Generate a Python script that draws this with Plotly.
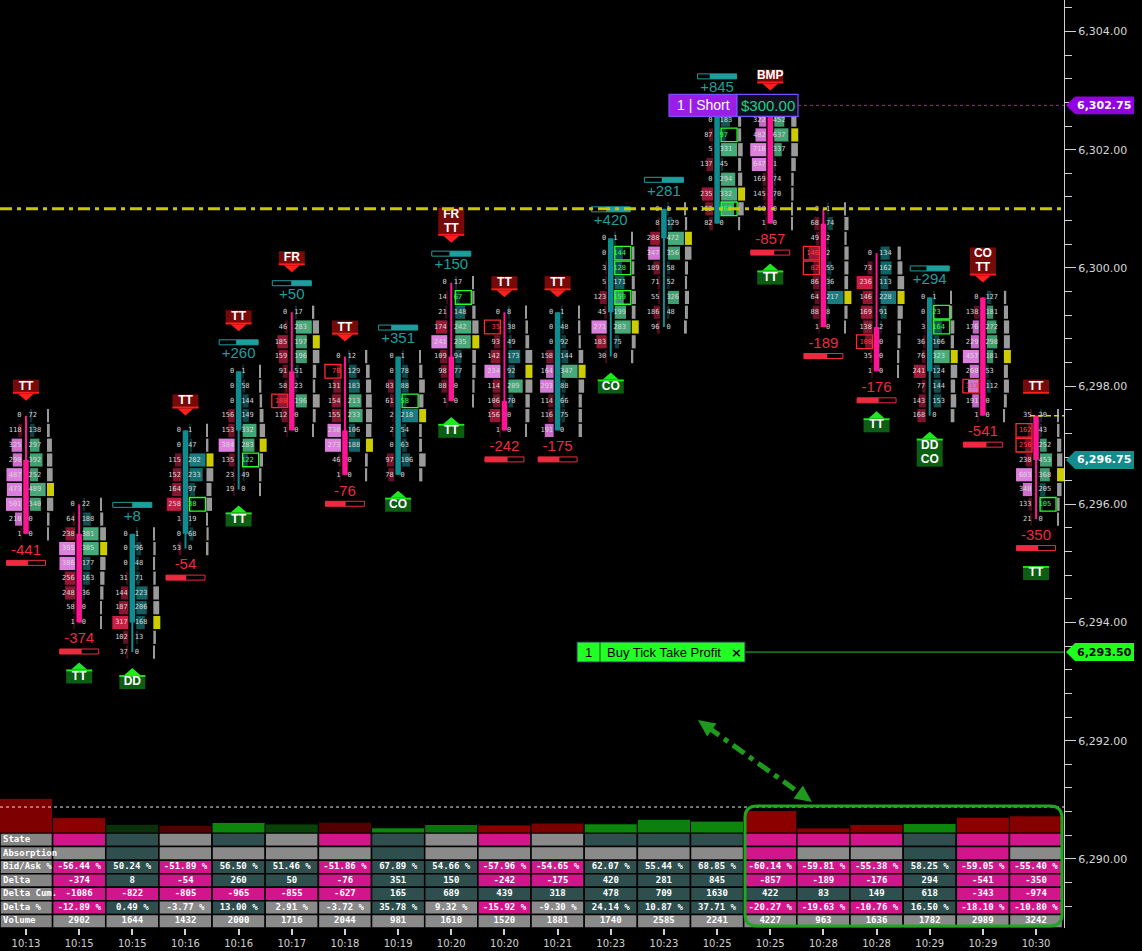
import plotly.graph_objects as go

# ---------------------------------------------------------------- data
times = ["10:13", "10:15", "10:15", "10:16", "10:16", "10:17", "10:18", "10:19", "10:20", "10:20",
         "10:21", "10:23", "10:23", "10:25", "10:25", "10:28", "10:28", "10:29", "10:29", "10:30"]
highs = [6297.5, 6296.0, 6295.5, 6297.25, 6298.25, 6299.25, 6298.5, 6298.5, 6299.75, 6299.25,
         6299.25, 6300.5, 6301.0, 6302.75, 6302.75, 6301.0, 6300.25, 6299.5, 6299.5, 6297.5]
opens = [6296.75, 6295.5, 6294.0, 6295.5, 6297.25, 6298.25, 6297.25, 6296.5, 6298.5, 6297.75,
         6297.25, 6299.25, 6300.5, 6300.75, 6302.75, 6300.75, 6299.0, 6298.25, 6299.5, 6297.5]
closes = [6295.5, 6294.0, 6295.5, 6297.25, 6298.25, 6297.25, 6296.5, 6298.5, 6297.75, 6297.25,
          6299.25, 6300.5, 6301.0, 6302.75, 6300.75, 6299.0, 6298.25, 6299.5, 6297.5, 6296.75]
bids = [
    [0, 118, 325, 290, 487, 473, 501, 218, 1],
    [0, 64, 238, 395, 386, 256, 248, 58, 1],
    [0, 0, 0, 31, 144, 187, 317, 102, 37],
    [0, 0, 115, 152, 164, 258, 1, 0, 53],
    [0, 0, 0, 156, 153, 384, 135, 23, 19],
    [0, 46, 185, 159, 91, 58, 180, 112, 1],
    [0, 70, 131, 154, 155, 230, 273, 46, 1],
    [0, 0, 83, 61, 2, 2, 0, 97, 78],
    [0, 14, 21, 174, 241, 109, 98, 88, 1],
    [0, 35, 93, 142, 234, 114, 106, 156, 1],
    [0, 0, 0, 158, 164, 293, 114, 116, 191],
    [0, 0, 3, 5, 123, 45, 271, 183, 30],
    [0, 8, 288, 347, 189, 71, 55, 186, 96],
    [0, 0, 87, 5, 137, 0, 235, 162, 82],
    [0, 322, 482, 718, 647, 169, 145, 60, 1],
    [0, 68, 49, 146, 82, 86, 64, 88, 1],
    [0, 73, 236, 146, 169, 138, 108, 35, 1],
    [0, 0, 3, 36, 76, 241, 77, 143, 168],
    [0, 138, 176, 229, 457, 260, 313, 191, 1],
    [35, 162, 256, 238, 603, 348, 133, 21],
]
asks = [
    [72, 138, 297, 392, 252, 489, 340, 0, 0],
    [22, 188, 381, 385, 177, 163, 36, 0, 0],
    [1, 96, 48, 71, 223, 206, 168, 13, 0],
    [1, 47, 282, 233, 97, 38, 19, 68, 0],
    [1, 58, 144, 149, 332, 283, 122, 49, 0],
    [17, 283, 197, 196, 51, 23, 196, 0, 0],
    [12, 129, 183, 213, 233, 106, 188, 0, 0],
    [1, 78, 88, 58, 218, 54, 63, 106, 0],
    [17, 67, 148, 242, 235, 94, 77, 0, 0],
    [8, 38, 49, 173, 92, 209, 70, 0, 0],
    [1, 48, 92, 144, 347, 88, 66, 75, 0],
    [1, 144, 128, 171, 159, 199, 283, 75, 0],
    [1, 129, 472, 356, 58, 52, 326, 48, 0],
    [2, 183, 97, 331, 45, 294, 332, 269, 0],
    [114, 452, 637, 337, 1, 74, 70, 0, 0],
    [1, 74, 2, 2, 55, 36, 217, 8, 0],
    [134, 162, 113, 228, 91, 2, 0, 0, 0],
    [1, 23, 164, 106, 323, 124, 144, 153, 0],
    [127, 181, 272, 298, 181, 53, 112, 0, 0],
    [20, 43, 252, 453, 368, 205, 105, 0],
]
# value-area membership of each cell (1 = inside)
bid_va = ["001111110", "000110000", "000000000", "000000000", "000001000", "000000000", "000001100",
          "000000000", "000010000", "000010000", "000011001", "000000100", "000100000", "000000000",
          "011110000", "000000000", "000000000", "000000000", "001111110", "00001100"]
ask_va = ["001111100", "001100000", "000000000", "000000000", "000011000", "011100100", "000110000",
          "000000000", "000110000", "000001000", "000010000", "000011100", "001100100", "000101110",
          "011100000", "000000000", "000000000", "000010000", "011110000", "00111000"]
# diagonal imbalance flags
bid_imb = ["000000000", "000000000", "000000000", "000000000", "000000000", "000000100", "010000000",
           "000000000", "000000000", "010000000", "000000000", "000000000", "000000000", "000000000",
           "000000000", "000110000", "000000100", "000000000", "000000100", "01100000"]
ask_imb = ["000000000", "000000000", "000000000", "000001000", "000000100", "000000000", "000000000",
           "000100000", "010000000", "000000000", "000000000", "011010000", "000000000", "001000010",
           "000000000", "000000000", "000000000", "011000000", "000000000", "00000010"]
bar_delta = [-441, -374, 8, -54, 260, 50, -76, 351, 150, -242, -175, 420, 281, 845, -857, -189,
             -176, 294, -541, -350]
top_marks = ["TT", "", "", "TT", "TT", "FR", "TT", "", "FR|TT", "TT", "TT", "", "", "", "BMP", "",
             "", "", "CO|TT", "TT"]
bottom_marks = ["", "TT", "DD", "", "TT", "", "", "CO", "TT", "", "", "CO", "", "", "TT", "", "TT",
                "DD|CO", "", "TT"]

# table (bars 2..20)
row_labels = ["State", "Absorption", "Bid/Ask %", "Delta", "Delta Cum.", "Delta %", "Volume"]
tbl_state = [-1, 1, 0, 1, 0, -1, 1, 0, -1, 0, 1, 1, 1, -1, -1, -1, 1, -1, -1]
tbl_absorption = [0, 1, 0, 0, 0, 0, 1, 0, 0, 0, 0, 0, 0, -1, 0, 0, 1, -1, 0]
tbl_bidask = [-56.44, 50.24, -51.89, 56.50, 51.46, -51.86, 67.89, 54.66, -57.96, -54.65, 62.07,
              55.44, 68.85, -60.14, -59.81, -55.38, 58.25, -59.05, -55.40]
tbl_delta = [-374, 8, -54, 260, 50, -76, 351, 150, -242, -175, 420, 281, 845, -857, -189, -176,
             294, -541, -350]
tbl_delta_cum = [-1086, -822, -805, -965, -855, -627, 165, 689, 439, 318, 478, 709, 1630, 422, 83,
                 149, 618, -343, -974]
tbl_delta_pct = [-12.89, 0.49, -3.77, 13.00, 2.91, -3.72, 35.78, 9.32, -15.92, -9.30, 24.14,
                 10.87, 37.71, -20.27, -19.63, -10.76, 16.50, -18.10, -10.80]
tbl_volume = [2902, 1644, 1432, 2000, 1716, 2044, 981, 1610, 1520, 1881, 1740, 2585, 2241, 4227,
              963, 1636, 1782, 2989, 3242]
first_bar_hist_volume = 6540
volume_ref_level = 4900

short_price = 6302.75
tp_price = 6293.50
last_price = 6296.75
level_line = 6301.0
live_open = 6297.5
TICK = 0.25

# ---------------------------------------------------------------- geometry helpers
W, H = 1142, 951
PLOT_H = 928
AX_PX = 1064
PXB = 53.16      # px per bar
X0PX = 26
PXP = 59.1       # px per point


def dx(px):
    return px / PXB


def dy(px):
    return px / PXP


def xpx(px):
    return (px - X0PX) / PXB


def xp(px):
    return px / W


def yp(py):
    return (PLOT_H - py) / PLOT_H


y_top = 6304 + dy(31.5)
y_bot = 6304 - dy(PLOT_H - 31.5)


def price_py(pr):
    return (y_top - pr) * PXP


def bar_px(xv):
    return X0PX + xv * PXB


# order label box (pixels) - cells beneath it are hidden
SHORT_BOX = (669, 798, price_py(short_price) - 11, price_py(short_price) + 11)


def covered(xv, pr, left):
    px = bar_px(xv)
    py = price_py(pr)
    x_lo, x_hi = (px - 12, px) if left else (px, px + 12)
    return (x_hi > SHORT_BOX[0] and x_lo < SHORT_BOX[1]
            and SHORT_BOX[2] - 3 < py < SHORT_BOX[3] + 3)


def rgb(c):
    return 'rgb(%d,%d,%d)' % c


def lerp(c0, c1, t):
    t = max(0.0, min(1.0, t))
    return rgb(tuple(int(round(a + (b - a) * t)) for a, b in zip(c0, c1)))


n = len(times)
lows = [highs[i] - (len(bids[i]) - 1) * TICK for i in range(n)]
PINK = '#ff1493'
TEAL = '#0f8c8f'
MAG = '#d1168b'
SLATE = '#2f4f4f'
GRAY = '#8a8a8a'

fig = go.Figure()
shapes = []
annotations = []

# ---------------------------------------------------------------- volume histogram (y2)
hist_vol = [first_bar_hist_volume] + tbl_volume
d_pct_all = [bar_delta[0] / (sum(bids[0]) + sum(asks[0])) * 100] + tbl_delta_pct
hist_cols = []
for i in range(n):
    t = min(1.0, abs(d_pct_all[i]) / 12.0)
    if bar_delta[i] >= 0:
        hist_cols.append(lerp((10, 45, 10), (12, 135, 12), t))
    else:
        hist_cols.append(lerp((60, 0, 0), (140, 0, 0), t))
fig.add_trace(go.Bar(x=list(range(n)), y=hist_vol, width=1.0, yaxis='y2',
                     marker=dict(color=hist_cols, line=dict(color='black', width=1)),
                     hoverinfo='skip', showlegend=False))
HPX = 0.0053
y2_0 = -(PLOT_H - 833) / HPX
y2_1 = y2_0 + PLOT_H / HPX

# ---------------------------------------------------------------- footprint cells
cy, cx, cb, cc = [], [], [], []
vy, vx, vb, vc = [], [], [], []
btx, bty, btt, btc = [], [], [], []
atx, aty, att, atc = [], [], [], []
for i in range(n):
    b, a = bids[i], asks[i]
    mx = max(b + a)
    tots = [u + v for u, v in zip(b, a)]
    mt = max(tots)
    for k in range(len(b)):
        p = highs[i] - k * TICK
        if b[k] > 0:
            t = b[k] / mx
            w = max(dx(1.2), dx(16) * t)
            cy.append(p); cx.append(w); cb.append(i - dx(4) - w)
            if bid_va[i][k] == '1':
                cc.append(lerp((180, 85, 180), (222, 128, 222), t))
            else:
                cc.append(lerp((50, 8, 22), (200, 32, 68), t))
        if a[k] > 0:
            t = a[k] / mx
            w = max(dx(1.2), dx(16) * t)
            cy.append(p); cx.append(w); cb.append(i + dx(4))
            if ask_va[i][k] == '1':
                cc.append(lerp((45, 130, 90), (72, 170, 122), t))
            else:
                cc.append(lerp((8, 40, 42), (25, 125, 128), t))
        if tots[k] > 0:
            vy.append(p); vx.append(dx(1.2) + dx(5.8) * tots[k] / mt); vb.append(i + dx(21))
            vc.append('#cccc00' if tots[k] == mt else '#9a9a9a')
        if not covered(i - dx(4.5), p, True):
            btx.append(i - dx(4.5)); bty.append(p); btt.append(str(b[k]))
            btc.append('#ff3b3b' if bid_imb[i][k] == '1' else '#d6d6d6')
        if not covered(i + dx(2.5), p, False):
            atx.append(i + dx(2.5)); aty.append(p); att.append(str(a[k]))
            atc.append('#3bff3b' if ask_imb[i][k] == '1' else '#d6d6d6')
        if bid_imb[i][k] == '1':
            shapes.append(dict(type='rect', xref='x', yref='y', x0=i - dx(20), x1=i - dx(4),
                               y0=p - dy(6.8), y1=p + dy(6.8), line=dict(color='#ff2a2a', width=1.3),
                               layer='above'))
        if ask_imb[i][k] == '1':
            shapes.append(dict(type='rect', xref='x', yref='y', x0=i + dx(4), x1=i + dx(20),
                               y0=p - dy(6.8), y1=p + dy(6.8), line=dict(color='#2aff2a', width=1.3),
                               layer='above'))

fig.add_trace(go.Bar(y=cy, x=cx, base=cb, orientation='h', width=dy(13.2),
                     marker=dict(color=cc, line=dict(width=0)), hoverinfo='skip', showlegend=False))
fig.add_trace(go.Bar(y=vy, x=vx, base=vb, orientation='h', width=dy(13.2),
                     marker=dict(color=vc, line=dict(width=0)), hoverinfo='skip', showlegend=False))

# candles
ccol = [TEAL if closes[i] > opens[i] else PINK for i in range(n)]
fig.add_trace(go.Bar(x=list(range(n)), y=[highs[i] - lows[i] for i in range(n)], base=lows,
                     width=dx(2), marker=dict(color=ccol, line=dict(width=0)),
                     hoverinfo='skip', showlegend=False))
fig.add_trace(go.Bar(x=list(range(n)), y=[abs(closes[i] - opens[i]) for i in range(n)],
                     base=[min(opens[i], closes[i]) for i in range(n)],
                     width=dx(5.5), marker=dict(color=ccol, line=dict(width=0)),
                     hoverinfo='skip', showlegend=False))

NUMFONT = 'DejaVu Sans Mono'
fig.add_trace(go.Scatter(x=btx, y=bty, text=btt, mode='text', textposition='middle left',
                         textfont=dict(family=NUMFONT, size=7, color=btc),
                         hoverinfo='skip', showlegend=False))
fig.add_trace(go.Scatter(x=atx, y=aty, text=att, mode='text', textposition='middle right',
                         textfont=dict(family=NUMFONT, size=7, color=atc),
                         hoverinfo='skip', showlegend=False))

# ---------------------------------------------------------------- delta labels and bars
dlx, dly, dlt, dlc = [], [], [], []
for i in range(n):
    neg = bar_delta[i] < 0
    col = '#ee2a40' if neg else '#1f9e9e'
    dlx.append(i)
    dly.append(lows[i] - dy(17) if neg else highs[i] + dy(17))
    dlt.append(('%d' % bar_delta[i]) if neg else ('+%d' % bar_delta[i]))
    dlc.append(col)
    yc = lows[i] - dy(29) if neg else highs[i] + dy(29)
    if i == 0:
        frac = sum(bids[0]) / (sum(bids[0]) + sum(asks[0]))
    else:
        frac = abs(tbl_bidask[i - 1]) / 100.0
    x0, x1 = i - dx(19.5), i + dx(19.5)
    shapes.append(dict(type='rect', xref='x', yref='y', x0=x0, x1=x1, y0=yc - dy(2.5),
                       y1=yc + dy(2.5), fillcolor='black', line=dict(color=col, width=1), layer='below'))
    if neg:
        shapes.append(dict(type='rect', xref='x', yref='y', x0=x0, x1=x0 + frac * (x1 - x0),
                           y0=yc - dy(2.5), y1=yc + dy(2.5), fillcolor=col, line=dict(width=0),
                           layer='below'))
    else:
        shapes.append(dict(type='rect', xref='x', yref='y', x0=x1 - frac * (x1 - x0), x1=x1,
                           y0=yc - dy(2.5), y1=yc + dy(2.5), fillcolor=col, line=dict(width=0),
                           layer='below'))
fig.add_trace(go.Scatter(x=dlx, y=dly, text=dlt, mode='text', textposition='middle center',
                         textfont=dict(family='Liberation Sans', size=15, color=dlc),
                         hoverinfo='skip', showlegend=False))

# ---------------------------------------------------------------- signal markers
mkx, mky, mkt = [], [], []
for i in range(n):
    neg = bar_delta[i] < 0
    arrow = i != n - 1
    hw = dx(13)
    for top, txt in ((True, top_marks[i]), (False, bottom_marks[i])):
        if not txt:
            continue
        lines = txt.split('|')
        nl = len(lines)
        if top:
            tip = highs[i] + dy(15 if neg else 40)
            bb = tip + dy(7)
            bt = bb + nl * dy(14)
            fill, acc = '#780909', '#ff1e1e'
            shapes.append(dict(type='rect', xref='x', yref='y', x0=i - hw, x1=i + hw, y0=bb, y1=bt,
                               fillcolor=fill, line=dict(width=0), layer='below'))
            shapes.append(dict(type='rect', xref='x', yref='y', x0=i - hw, x1=i + hw, y0=bb,
                               y1=bb + dy(1.8), fillcolor=acc, line=dict(width=0), layer='below'))
            if arrow:
                shapes.append(dict(type='path', xref='x', yref='y', layer='below',
                                   path='M %f,%f L %f,%f L %f,%f Z' % (i - dx(8), bb, i + dx(8), bb, i, tip),
                                   fillcolor=acc, line=dict(width=0)))
        else:
            tip = lows[i] - dy(40 if neg else 16)
            bt = tip - dy(7)
            bb = bt - nl * dy(14)
            fill, acc = '#0c5e12', '#1ee81e'
            shapes.append(dict(type='rect', xref='x', yref='y', x0=i - hw, x1=i + hw, y0=bb, y1=bt,
                               fillcolor=fill, line=dict(width=0), layer='below'))
            shapes.append(dict(type='rect', xref='x', yref='y', x0=i - hw, x1=i + hw, y0=bt - dy(1.8),
                               y1=bt, fillcolor=acc, line=dict(width=0), layer='below'))
            if arrow:
                shapes.append(dict(type='path', xref='x', yref='y', layer='below',
                                   path='M %f,%f L %f,%f L %f,%f Z' % (i - dx(8), bt, i + dx(8), bt, i, tip),
                                   fillcolor=acc, line=dict(width=0)))
        for j, ln in enumerate(lines):
            mkx.append(i); mky.append(bt - (j + 0.5) * dy(14)); mkt.append(ln)
fig.add_trace(go.Scatter(x=mkx, y=mky, text=mkt, mode='text', textposition='middle center',
                         textfont=dict(family='Liberation Sans', size=12, color='white', weight='bold'),
                         hoverinfo='skip', showlegend=False))

# ---------------------------------------------------------------- table (y3)
tx, ty, tt = [], [], []
lab_x0 = xpx(0)
for r, lab in enumerate(row_labels):
    shapes.append(dict(type='rect', xref='x', yref='y3', x0=lab_x0, x1=0.5, y0=r, y1=r + 1,
                       fillcolor='#858585', line=dict(color='black', width=1.5), layer='below'))
fig.add_trace(go.Scatter(x=[xpx(3)] * len(row_labels), y=[r + 0.5 for r in range(len(row_labels))],
                         text=row_labels, mode='text', textposition='middle right', yaxis='y3',
                         textfont=dict(family='DejaVu Sans Mono', size=9, color='white', weight='bold'),
                         hoverinfo='skip', showlegend=False))


def sign_col(v):
    return MAG if v < 0 else SLATE


state_map = {-1: MAG, 0: GRAY, 1: SLATE}
for c in range(len(tbl_volume)):
    i = c + 1
    dp = tbl_delta_pct[c]
    dpc = GRAY if 2 < abs(dp) < 10 else sign_col(dp)
    rows = [
        (state_map[tbl_state[c]], ''),
        (state_map[tbl_absorption[c]], ''),
        (sign_col(tbl_bidask[c]), '%.2f %%' % tbl_bidask[c]),
        (sign_col(tbl_delta[c]), str(tbl_delta[c])),
        (sign_col(tbl_delta_cum[c]), str(tbl_delta_cum[c])),
        (dpc, '%.2f %%' % dp),
        (GRAY, str(tbl_volume[c])),
    ]
    for r, (col, txt) in enumerate(rows):
        shapes.append(dict(type='rect', xref='x', yref='y3', x0=i - 0.5, x1=i + 0.5, y0=r, y1=r + 1,
                           fillcolor=col, line=dict(color='black', width=1.5), layer='below'))
        if txt:
            tx.append(i); ty.append(r + 0.5); tt.append(txt)
fig.add_trace(go.Scatter(x=tx, y=ty, text=tt, mode='text', textposition='middle center', yaxis='y3',
                         textfont=dict(family='DejaVu Sans Mono', size=9, color='white', weight='bold'),
                         hoverinfo='skip', showlegend=False))

# dotted reference line on histogram
shapes.append(dict(type='line', xref='paper', yref='y2', x0=0, x1=xp(AX_PX), y0=volume_ref_level,
                   y1=volume_ref_level, line=dict(color='#e6e6e6', width=1, dash='dot')))

# ---------------------------------------------------------------- horizontal levels and orders
shapes.append(dict(type='line', xref='paper', yref='y', x0=0, x1=xp(AX_PX), y0=level_line, y1=level_line,
                   line=dict(color='#c8c800', width=3, dash='12px,5px,4px,5px'), layer='above'))
shapes.append(dict(type='line', xref='paper', yref='y', x0=xp(1030), x1=xp(AX_PX), y0=live_open,
                   y1=live_open, line=dict(color='#d6d600', width=1.5, dash='5px,3px'), layer='above'))
shapes.append(dict(type='line', xref='paper', yref='y', x0=xp(798), x1=xp(AX_PX), y0=short_price,
                   y1=short_price, line=dict(color='#8a2be2', width=1, dash='dot'), layer='above'))
shapes.append(dict(type='line', xref='paper', yref='y', x0=xp(745), x1=xp(AX_PX), y0=tp_price,
                   y1=tp_price, line=dict(color='#1ec81e', width=1), layer='above'))

# short order label
hh = dy(11)
shapes.append(dict(type='rect', xref='paper', yref='y', x0=xp(669), x1=xp(737), y0=short_price - hh,
                   y1=short_price + hh, fillcolor='#9a1ee6', line=dict(color='#7b4dff', width=1.2),
                   layer='above'))
shapes.append(dict(type='rect', xref='paper', yref='y', x0=xp(737), x1=xp(798), y0=short_price - hh,
                   y1=short_price + hh, fillcolor='#0e1020', line=dict(color='#7b4dff', width=1.2),
                   layer='above'))
annotations.append(dict(xref='paper', yref='y', x=xp(703), y=short_price, text='1 | Short',
                        xanchor='center', yanchor='middle', showarrow=False,
                        font=dict(family='Liberation Sans', size=14, color='white')))
annotations.append(dict(xref='paper', yref='y', x=xp(767.5), y=short_price, text='$300.00',
                        xanchor='center', yanchor='middle', showarrow=False,
                        font=dict(family='Liberation Sans', size=15, color='#1fcf7f')))

# take-profit label
hh2 = dy(10)
shapes.append(dict(type='rect', xref='paper', yref='y', x0=xp(577), x1=xp(745), y0=tp_price - hh2,
                   y1=tp_price + hh2, fillcolor='#22ff22', line=dict(color='#3a2a6a', width=1),
                   layer='above'))
shapes.append(dict(type='line', xref='paper', yref='y', x0=xp(600), x1=xp(600), y0=tp_price - hh2,
                   y1=tp_price + hh2, line=dict(color='#1a5a1a', width=1), layer='above'))
annotations.append(dict(xref='paper', yref='y', x=xp(588.5), y=tp_price, text='1', showarrow=False,
                        xanchor='center', yanchor='middle',
                        font=dict(family='Liberation Sans', size=13, color='black')))
annotations.append(dict(xref='paper', yref='y', x=xp(605), y=tp_price, text='Buy Tick Take Profit',
                        xanchor='left', yanchor='middle', showarrow=False,
                        font=dict(family='Liberation Sans', size=13, color='black')))
annotations.append(dict(xref='paper', yref='y', x=xp(736), y=tp_price, text='×', showarrow=False,
                        xanchor='center', yanchor='middle',
                        font=dict(family='DejaVu Sans', size=13, color='black', weight='bold')))

# price flags on the axis
for price, bg, fg in ((short_price, '#9000e0', 'white'), (last_price, '#138c8c', 'white'),
                      (tp_price, '#1eff1e', 'black')):
    h9 = dy(9)
    shapes.append(dict(type='path', xref='paper', yref='y', layer='above',
                       path='M %f,%f L %f,%f L %f,%f L %f,%f L %f,%f Z' % (
                           xp(1066), price, xp(1075), price + h9, xp(1134), price + h9,
                           xp(1134), price - h9, xp(1075), price - h9),
                       fillcolor=bg, line=dict(width=0)))
    annotations.append(dict(xref='paper', yref='y', x=xp(1104), y=price, text='{:,.2f}'.format(price),
                            xanchor='center', yanchor='middle', showarrow=False,
                            font=dict(family='DejaVu Sans', size=11, color=fg, weight='bold')))

# ---------------------------------------------------------------- highlight box + arrow
def pth(points):
    return ' '.join(points)


bx0, bx1, by0, by1, rr = 745, 1062, 806, 926, 12
p = []
p.append('M %f,%f' % (xp(bx0 + rr), yp(by0)))
p.append('L %f,%f' % (xp(bx1 - rr), yp(by0)))
p.append('Q %f,%f %f,%f' % (xp(bx1), yp(by0), xp(bx1), yp(by0 + rr)))
p.append('L %f,%f' % (xp(bx1), yp(by1 - rr)))
p.append('Q %f,%f %f,%f' % (xp(bx1), yp(by1), xp(bx1 - rr), yp(by1)))
p.append('L %f,%f' % (xp(bx0 + rr), yp(by1)))
p.append('Q %f,%f %f,%f' % (xp(bx0), yp(by1), xp(bx0), yp(by1 - rr)))
p.append('L %f,%f' % (xp(bx0), yp(by0 + rr)))
p.append('Q %f,%f %f,%f Z' % (xp(bx0), yp(by0), xp(bx0 + rr), yp(by0)))
shapes.append(dict(type='path', xref='paper', yref='paper', path=pth(p),
                   line=dict(color='#1fa81f', width=3), layer='above'))

sx, sy, ex, ey = 698, 720, 812, 802
L = ((ex - sx) ** 2 + (ey - sy) ** 2) ** 0.5
ux, uy = (ex - sx) / L, (ey - sy) / L
nx, ny = -uy, ux
HL, HW = 17, 8
shapes.append(dict(type='line', xref='paper', yref='paper', x0=xp(sx + ux * 12), y0=yp(sy + uy * 12),
                   x1=xp(ex - ux * 12), y1=yp(ey - uy * 12),
                   line=dict(color='#1e9a1e', width=5, dash='14px,6px,5px,6px'), layer='above'))
for (tx0, ty0, sgn) in ((sx, sy, 1), (ex, ey, -1)):
    bcx, bcy = tx0 + sgn * ux * HL, ty0 + sgn * uy * HL
    shapes.append(dict(type='path', xref='paper', yref='paper', layer='above',
                       path='M %f,%f L %f,%f L %f,%f Z' % (
                           xp(tx0), yp(ty0), xp(bcx + nx * HW), yp(bcy + ny * HW),
                           xp(bcx - nx * HW), yp(bcy - ny * HW)),
                       fillcolor='#1e9a1e', line=dict(width=0)))

# ---------------------------------------------------------------- layout
fig.update_layout(
    width=W, height=H, template='none',
    margin=dict(l=0, r=0, t=0, b=H - PLOT_H, pad=0),
    paper_bgcolor='black', plot_bgcolor='black',
    barmode='overlay', showlegend=False,
    shapes=shapes, annotations=annotations,
    xaxis=dict(domain=[0, xp(AX_PX)], range=[xpx(0), xpx(AX_PX)], tickvals=list(range(n)),
               ticktext=times, ticks='outside', ticklen=6, tickwidth=1.5, tickcolor='#d0d0d0',
               tickfont=dict(family='DejaVu Sans', size=10, color='#d0d0d0'),
               showgrid=False, zeroline=False, showline=False, anchor='y', fixedrange=True),
    yaxis=dict(domain=[0, 1], range=[y_bot, y_top], side='right', tickformat=',.2f', dtick=2,
               tick0=6290, ticks='outside', ticklen=11, tickwidth=1, tickcolor='#d0d0d0',
               tickfont=dict(family='DejaVu Sans', size=11, color='#d6d6d6'),
               showline=True, linecolor='#d0d0d0', linewidth=1, showgrid=False, zeroline=False,
               minor=dict(dtick=0.4, tick0=6290, ticks='outside', ticklen=7, tickcolor='#d0d0d0',
                          showgrid=False),
               anchor='x', fixedrange=True),
    yaxis2=dict(overlaying='y', range=[y2_0, y2_1], visible=False, fixedrange=True),
    yaxis3=dict(domain=[0, yp(833)], range=[7, 0], visible=False, anchor='x', fixedrange=True),
)

fig.write_html("out.html", config={'displayModeBar': False},
               post_script="document.body.style.margin='0';document.body.style.overflow='hidden';")
